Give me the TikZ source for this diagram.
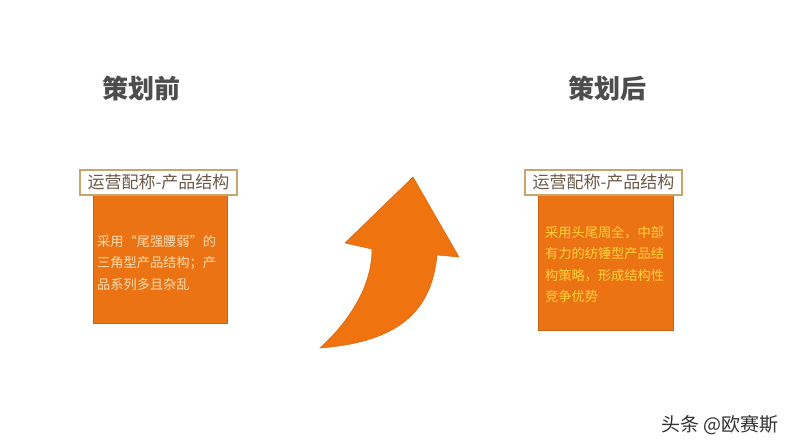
\documentclass[tikz,border=0pt]{standalone}
\usepackage{fontspec}
\setmainfont{Noto Sans CJK SC}
\definecolor{orangefill}{HTML}{EC7314}
\definecolor{arrowfill}{HTML}{EF7410}
\definecolor{arrowedge}{HTML}{D8650C}
\definecolor{titlegrey}{HTML}{4D4D4D}
\definecolor{headborder}{HTML}{C9A56E}
\definecolor{headtext}{HTML}{6B5A48}
\definecolor{lefttext}{HTML}{F9DDB4}
\definecolor{righttext}{HTML}{FFD43A}
\definecolor{marktext}{HTML}{333333}
\begin{document}
\begin{tikzpicture}[x=1pt,y=-1pt,
  titletext/.style={font=\fontsize{26}{30}\selectfont\bfseries, text=titlegrey, inner sep=0pt},
  headbox/.style={draw=headborder, line width=1.6pt, fill=white, inner sep=0pt,
    font=\fontsize{17}{20}\selectfont, text=headtext},
  orangebox/.style={fill=orangefill, draw=orangefill!85!black, line width=0.4pt},
  bodytext/.style={font=\fontsize{13.2}{21.5}\selectfont, align=left, inner sep=0pt, anchor=west}]
\useasboundingbox (0,0) rectangle (794,447);
\fill[white] (0,0) rectangle (794,447);

% titles
\node[titletext] (t1) at (141,89) {策划前};
\node[titletext] (t2) at (607,89) {策划后};

% left panel
\draw[orangebox] (93,193) rectangle (227,323);
\node[headbox, minimum width=157pt, minimum height=25pt] (h1) at (158.5,182.5) {运营配称-产品结构};
\node[bodytext, text=lefttext] (b1) at (97,262.5) {采用“尾强腰弱”的\\三角型产品结构；产\\品系列多且杂乱};

% right panel
\draw[orangebox] (538,193) rectangle (673,330);
\node[headbox, minimum width=157pt, minimum height=25pt] (h2) at (603.5,182.5) {运营配称-产品结构};
\node[bodytext, text=righttext] (b2) at (545,264.5) {采用头尾周全，中部\\有力的纺锤型产品结\\构策略，形成结构性\\竞争优势};

% arrow
\filldraw[fill=arrowfill, draw=arrowedge, line width=0.5pt, line join=miter]
  (413,177) -- (459,257) -- (437,255)
  .. controls (432,310) and (400,342) .. (320,348)
  .. controls (345,325) and (372,290) .. (372,249)
  -- (345,243) -- cycle;

% watermark
\node[font=\fontsize{19}{22}\selectfont, text=marktext, inner sep=0pt, anchor=east] (wm) at (779,425) {头条 @欧赛斯};
\end{tikzpicture}
\end{document}
